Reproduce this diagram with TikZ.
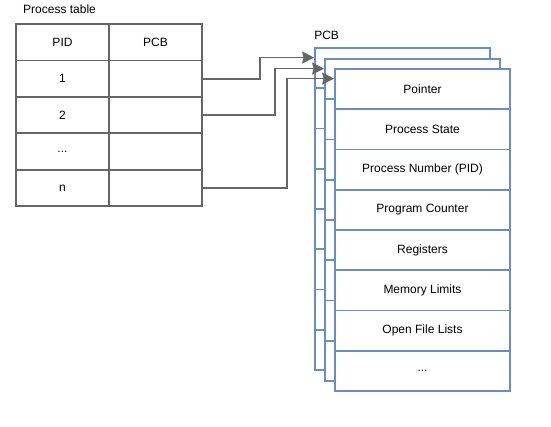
\documentclass[tikz,border=0pt]{standalone}
\usepackage{fontspec}
\setmainfont{Liberation Sans}
\usetikzlibrary{positioning,arrows.meta}
\definecolor{linegray}{HTML}{666666}
\definecolor{pcbblue}{HTML}{6C8EBF}

\begin{document}
\begin{tikzpicture}[x=1pt, y=-1pt, on grid, node distance=36.4pt and 93pt,
font=\fontsize{12}{14}\selectfont,
cell/.style={rectangle, draw=linegray, line width=1.8pt, fill=white,
  minimum width=93pt, minimum height=36.4pt, inner sep=0pt},
field/.style={rectangle, draw=pcbblue, line width=1.8pt, fill=white,
  minimum width=175pt, minimum height=40.25pt, inner sep=0pt},
link/.style={draw=linegray, line width=1.8pt,
  -{Stealth[length=12pt,width=12pt,inset=1.5pt]}}]
\useasboundingbox (0,0) rectangle (551,426);

% process table
\node[anchor=base west, inner sep=0pt] (title) at (23,13) {Process table};
\node[cell] (pidhead) at (62.5,42.2) {PID};
\node[cell] (pcbhead) [right=of pidhead] {PCB};
\node[cell] (pid1) [below=of pidhead] {1};
\node[cell] (pcb1) [right=of pid1] {};
\node[cell] (pid2) [below=of pid1] {2};
\node[cell] (pcb2) [right=of pid2] {};
\node[cell] (pid3) [below=of pid2] {...};
\node[cell] (pcb3) [right=of pid3] {};
\node[cell] (pid4) [below=of pid3] {n};
\node[cell] (pcb4) [right=of pid4] {};

% PCB copies behind
\foreach \s/\dx/\dy in {back/-20/-21, mid/-10/-10} {
  \node[field] (\s1) at (422.5+\dx,89.1+\dy) {};
  \foreach \j [count=\k from 1] in {2,...,8}
    \node[field] (\s\j) [below=40.25pt of \s\k] {};
}

% front PCB
\node[field] (front1) at (422.5,89.1) {Pointer};
\node[field] (front2) [below=40.25pt of front1] {Process State};
\node[field] (front3) [below=40.25pt of front2] {Process Number (PID)};
\node[field] (front4) [below=40.25pt of front3] {Program Counter};
\node[field] (front5) [below=40.25pt of front4] {Registers};
\node[field] (front6) [below=40.25pt of front5] {Memory Limits};
\node[field] (front7) [below=40.25pt of front6] {Open File Lists};
\node[field] (front8) [below=40.25pt of front7] {...};
\node[anchor=base west, inner sep=0pt] (pcblabel) at ([yshift=8pt]back1.north west) {PCB};

\draw[link] (pcb1.east) -- ++(57,0) |- ([yshift=-10.5pt]back1.north west);
\draw[link] (pcb2.east) -- ++(72,0) |- ([yshift=-10.5pt]mid1.north west);
\draw[link] (pcb4.east) -- ++(84,0) |- ([yshift=-10.5pt]front1.north west);
\end{tikzpicture}
\end{document}
